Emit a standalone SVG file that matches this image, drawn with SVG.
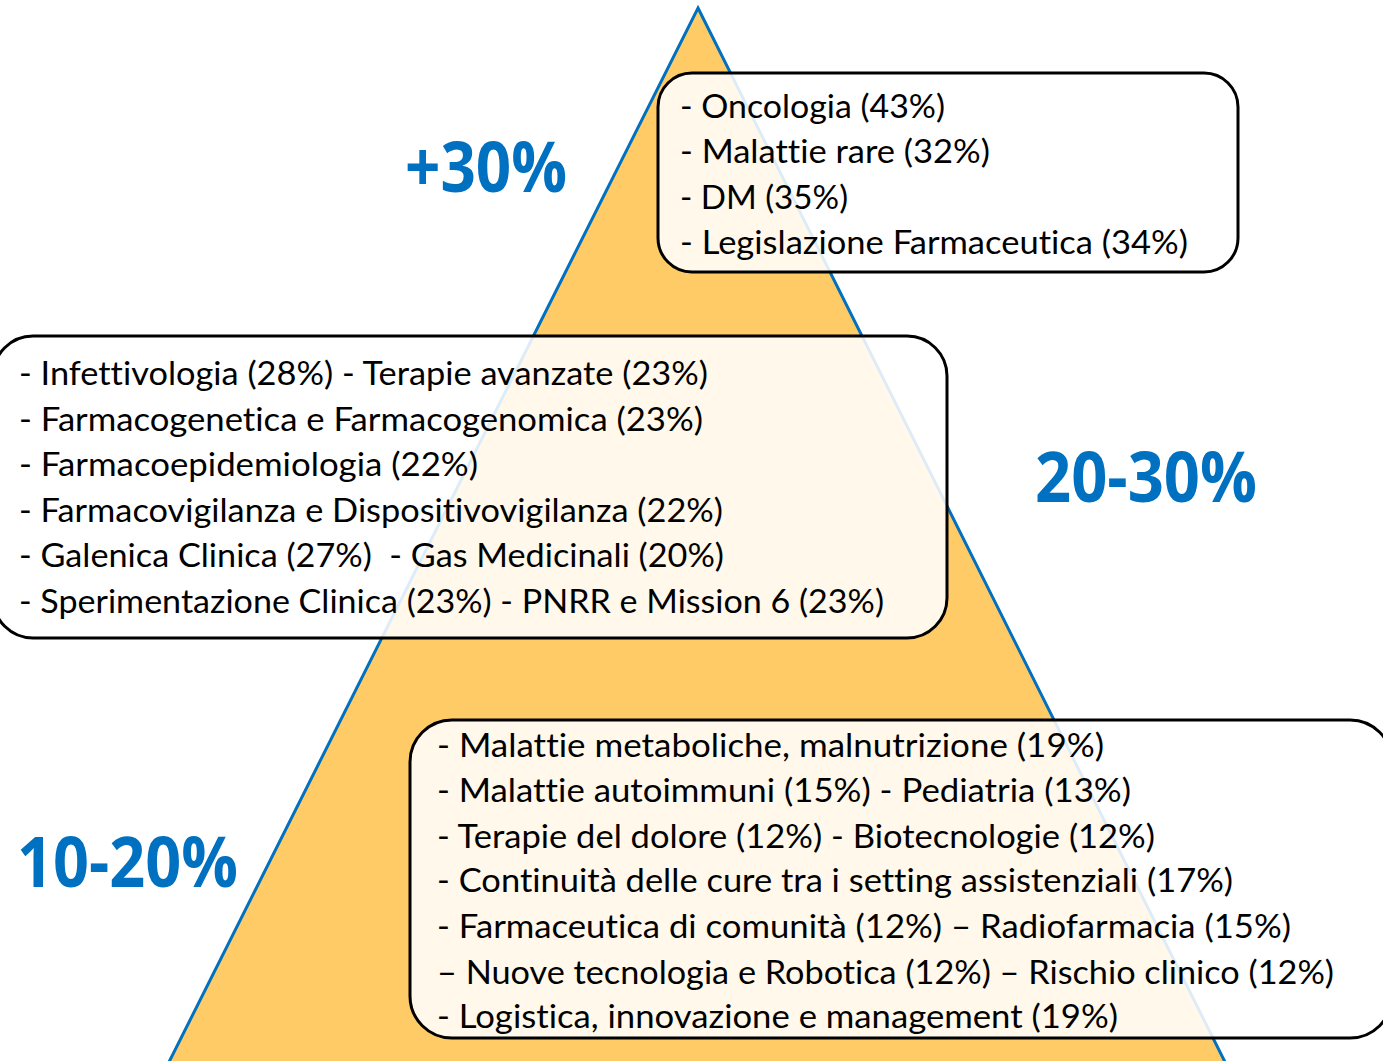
<svg xmlns="http://www.w3.org/2000/svg" width="1383" height="1061" viewBox="0 0 1383 1061">
<style>
.tri{fill:#FFCB66;stroke:#0070C0;stroke-width:3}
.box{fill:#FFFFFF;fill-opacity:0.87;stroke:#000000;stroke-width:3}
.t{font-family:Lato,"Open Sans","Liberation Sans",sans-serif;font-size:33px;fill:#000000;font-variant-ligatures:none;font-feature-settings:"liga" 0,"clig" 0,"dlig" 0}
.big{font-family:"Open Sans",Lato,"Liberation Sans",sans-serif;font-weight:bold;font-size:70px;fill:#0070C0}
</style>
<rect x="0" y="0" width="1383" height="1061" fill="#FFFFFF"/>
<g id="pyramid">
<polygon class="tri" points="698,8 1230,1072 164,1072"/>
</g>
<g id="connectors"></g>
<g id="label-top">
<text class="big" x="405" y="192" textLength="162" lengthAdjust="spacingAndGlyphs">+30%</text>
</g>
<g id="label-mid">
<text class="big" x="1035" y="502" textLength="222" lengthAdjust="spacingAndGlyphs">20-30%</text>
</g>
<g id="label-bottom">
<text class="big" x="17" y="887" textLength="221" lengthAdjust="spacingAndGlyphs">10-20%</text>
</g>
<g id="box-top">
<rect class="box" x="658" y="73" width="580" height="199" rx="34" ry="34"/>
<text class="t" x="680" y="118" textLength="265" lengthAdjust="spacingAndGlyphs">- Oncologia (43%)</text>
<text class="t" x="680" y="163" textLength="310" lengthAdjust="spacingAndGlyphs">- Malattie rare (32%)</text>
<text class="t" x="680" y="209" textLength="168" lengthAdjust="spacingAndGlyphs">- DM (35%)</text>
<text class="t" x="680" y="254" textLength="508" lengthAdjust="spacingAndGlyphs">- Legislazione Farmaceutica (34%)</text>
</g>
<g id="box-mid">
<rect class="box" x="-7" y="336" width="954" height="302" rx="40" ry="40"/>
<text class="t" x="19" y="385" textLength="689" lengthAdjust="spacingAndGlyphs">- Infettivologia (28%) - Terapie avanzate (23%)</text>
<text class="t" x="19" y="431" textLength="684" lengthAdjust="spacingAndGlyphs">- Farmacogenetica e Farmacogenomica (23%)</text>
<text class="t" x="19" y="476" textLength="459" lengthAdjust="spacingAndGlyphs">- Farmacoepidemiologia (22%)</text>
<text class="t" x="19" y="522" textLength="704" lengthAdjust="spacingAndGlyphs">- Farmacovigilanza e Dispositivovigilanza (22%)</text>
<text class="t" x="19" y="567" textLength="705" lengthAdjust="spacingAndGlyphs" xml:space="preserve">- Galenica Clinica (27%)  - Gas Medicinali (20%)</text>
<text class="t" x="19" y="613" textLength="865" lengthAdjust="spacingAndGlyphs">- Sperimentazione Clinica (23%) - PNRR e Mission 6 (23%)</text>
</g>
<g id="box-bottom">
<rect class="box" x="410" y="720" width="982" height="318" rx="42" ry="42"/>
<text class="t" x="437" y="757" textLength="667" lengthAdjust="spacingAndGlyphs">- Malattie metaboliche, malnutrizione (19%)</text>
<text class="t" x="437" y="802" textLength="694" lengthAdjust="spacingAndGlyphs">- Malattie autoimmuni (15%) - Pediatria (13%)</text>
<text class="t" x="437" y="848" textLength="718" lengthAdjust="spacingAndGlyphs">- Terapie del dolore (12%) - Biotecnologie (12%)</text>
<text class="t" x="437" y="892" textLength="796" lengthAdjust="spacingAndGlyphs">- Continuità delle cure tra i setting assistenziali (17%)</text>
<text class="t" x="437" y="938" textLength="854" lengthAdjust="spacingAndGlyphs">- Farmaceutica di comunità (12%) – Radiofarmacia (15%)</text>
<text class="t" x="437" y="984" textLength="897" lengthAdjust="spacingAndGlyphs">– Nuove tecnologia e Robotica (12%) – Rischio clinico (12%)</text>
<text class="t" x="437" y="1028" textLength="681" lengthAdjust="spacingAndGlyphs">- Logistica, innovazione e management (19%)</text>
</g>
</svg>
